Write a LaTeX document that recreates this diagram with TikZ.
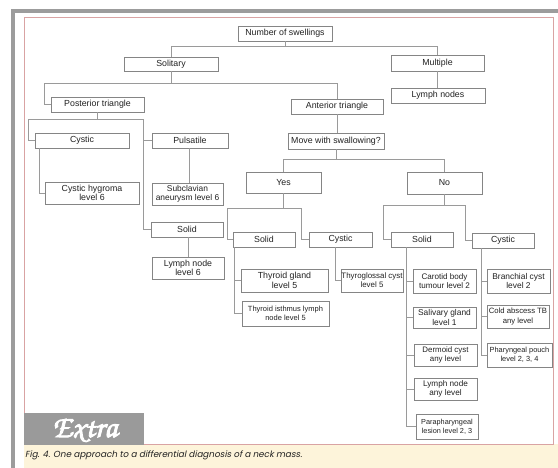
\documentclass[tikz,border=0pt]{standalone}
\usepackage{fontspec}
\setmainfont{Liberation Sans}
\newfontfamily\capfont{Poppins}[FakeSlant=0.2]
\usetikzlibrary{calc}
\definecolor{boxline}{HTML}{858585}
\definecolor{connline}{HTML}{9A9A9A}
\definecolor{txt}{HTML}{222222}
\definecolor{barg}{HTML}{9C9C9C}
\definecolor{pinkline}{HTML}{D9A3A3}
\definecolor{cream}{HTML}{FDF4DA}
\definecolor{extrag}{HTML}{9A9A9A}
\newcommand\fsz[1]{\fontsize{#1}{9.3}\selectfont}
\newcommand\bx[7][]{\node[box,#1, minimum width={(#5-#3)*1pt}, minimum height={(#6-#4)*1pt}] (#2) at ({(#3+#5)/2},{(#4+#6)/2}) {#7};}
\tikzset{
  box/.style={draw=boxline, line width=0.8pt, fill=white, inner sep=0pt, align=center, text=txt, font=\fsz{8.8}},
  conn/.style={draw=connline, line width=0.85pt},
}
\begin{document}
\begin{tikzpicture}[x=1pt,y=-1pt]
\useasboundingbox (0,0) rectangle (558,468);
\fill[white] (0,0) rectangle (558,468);
% frame
\fill[barg] (11,9) rectangle (558,13);
\fill[barg] (11,9) rectangle (15,468);
\fill[cream] (24,444) rectangle (558,468);
\draw[pinkline, line width=0.8pt] (24,17) rectangle (553,444);
\fill[extrag] (24,413) rectangle (144,445);
\node[text=white, inner sep=0pt, anchor=base] (extra) at (85,437) {\usefont{OT1}{pzc}{mb}{it}\fontsize{31}{31}\selectfont\special{pdf:literal direct 2 Tr 0.9 w}Extra\special{pdf:literal direct 0 Tr}};
\node[text=txt, inner sep=0pt, anchor=base west] (cap) at (25,457) {\capfont\fontsize{8.8}{10}\selectfont Fig. 4. One approach to a differential diagnosis of a neck mass.};

% nodes
\bx{num}{238}{26}{332}{41}{Number of swellings}
\bx{sol}{124}{57}{218}{71}{Solitary}
\bx{mult}{391}{55}{484}{71}{Multiple}
\bx{lymphs}{391}{88}{485}{103}{Lymph nodes}
\bx{post}{51}{97}{144}{112}{Posterior triangle}
\bx{ant}{291}{99}{383}{114}{Anterior triangle}
\bx{move}{288}{133}{384}{149}{Move with swallowing?}
\bx{yes}{246}{172}{321}{193}{Yes}
\bx{no}{407}{172}{482}{194}{No}
\bx{pcys}{35}{133}{129}{148}{Cystic}
\bx{puls}{152}{133}{228}{148}{Pulsatile}
\bx{hyg}{45}{182}{139}{204}{Cystic hygroma\\level 6}
\bx[font=\fsz{8.4}]{subc}{152}{183}{223}{205}{Subclavian\\aneurysm level 6}
\bx{psol}{151}{222}{223}{237}{Solid}
\bx{pln}{152}{257}{224}{279}{Lymph node\\level 6}
\bx{ysol}{233}{232}{295}{247}{Solid}
\bx{ycys}{309}{232}{372}{247}{Cystic}
\bx{thy}{241}{269}{328}{292}{Thyroid gland\\level 5}
\bx[font=\fsz{7.5}]{isth}{242}{301}{329}{326}{Thyroid isthmus lymph\\node level 5}
\bx[font=\fsz{7.9}]{tgl}{341}{269}{403}{292}{Thyroglossal cyst\\level 5}
\bx{nsol}{391}{232}{453}{247}{Solid}
\bx{ncys}{472}{233}{534}{248}{Cystic}
\bx[font=\fsz{8.1}]{car}{413}{269}{476}{293}{Carotid body\\tumour level 2}
\bx[font=\fsz{8.4}]{bra}{487}{269}{550}{293}{Branchial cyst\\level 2}
\bx[font=\fsz{8.4}]{sal}{413}{307}{476}{328}{Salivary gland\\level 1}
\bx[font=\fsz{7.7}]{cold}{487}{305}{549}{328}{Cold abscess TB\\any level}
\bx[font=\fsz{7.9}]{der}{414}{344}{477}{366}{Dermoid cyst\\any level}
\bx[font=\fsz{8.2}]{plym}{414}{378}{477}{400}{Lymph node\\any level}
\bx[font=\fsz{7.3}]{para}{416}{414}{478}{439}{Parapharyngeal\\lesion level 2, 3}
\bx[font=\fsz{7.4}]{phar}{487}{343}{552}{367}{Pharyngeal pouch\\level 2, 3, 4}

% connectors
\draw[conn] (num.south) -- ++(0,5) -| (sol.north);
\draw[conn] (num.south) -- ++(0,5) -| (mult.north);
\draw[conn] (mult.south) -- (mult.south |- lymphs.north);
\draw[conn] (sol.south) -- ++(0,12) -| ([xshift=-6pt]post.west) -- (post.west);
\draw[conn] (sol.south) -- ++(0,12) -| (ant.north);
\draw[conn] (ant.south) -- (ant.south |- move.north);
\draw[conn] (move.south) -- ++(0,10) -| (yes.north);
\draw[conn] (move.south) -- ++(0,10) -| (no.north);
\draw[conn] (post.south) -- ++(0,7) -| ([xshift=-6pt]pcys.west) -- (pcys.west);
\draw[conn] (post.south) -- ++(0,7) -| ([xshift=-8pt]puls.west) -- (puls.west);
\draw[conn] (post.south) -- ++(0,7) -| ([xshift=-7pt]psol.west) -- (psol.west);
\draw[conn] ([xshift=5pt]pcys.south west) |- (hyg.west);
\draw[conn] ([xshift=-1pt]puls.south) -- ([xshift=-1pt]puls.south |- subc.north);
\draw[conn] ([xshift=1.5pt]psol.south) -- ([xshift=1.5pt]psol.south |- pln.north);
\draw[conn] (yes.south) -- ++(0,15) -| ([xshift=-5pt]ysol.west) -- (ysol.west);
\draw[conn] (yes.south) -- ++(0,15) -| ([xshift=-7pt]ycys.west) -- (ycys.west);
\draw[conn] ([xshift=2pt]ysol.south west) |- (thy.west);
\draw[conn] ([xshift=2pt]ysol.south west) |- (isth.west);
\draw[conn] ([xshift=27pt]ycys.south west) |- (tgl.west);
\draw[conn] (no.south) -- ++(0,11) -| ([xshift=-7pt]nsol.west) -- (nsol.west);
\draw[conn] (no.south) -- ++(0,11) -| ([xshift=-6pt]ncys.west) -- (ncys.west);
\draw[conn] ([xshift=16pt]nsol.south west) |- (car.west);
\draw[conn] ([xshift=16pt]nsol.south west) |- (sal.west);
\draw[conn] ([xshift=16pt]nsol.south west) |- (der.west);
\draw[conn] ([xshift=16pt]nsol.south west) |- (plym.west);
\draw[conn] ([xshift=16pt]nsol.south west) |- (para.west);
\draw[conn] ([xshift=10pt]ncys.south west) |- (bra.west);
\draw[conn] ([xshift=10pt]ncys.south west) |- (cold.west);
\draw[conn] ([xshift=10pt]ncys.south west) |- (phar.west);
\end{tikzpicture}
\end{document}
